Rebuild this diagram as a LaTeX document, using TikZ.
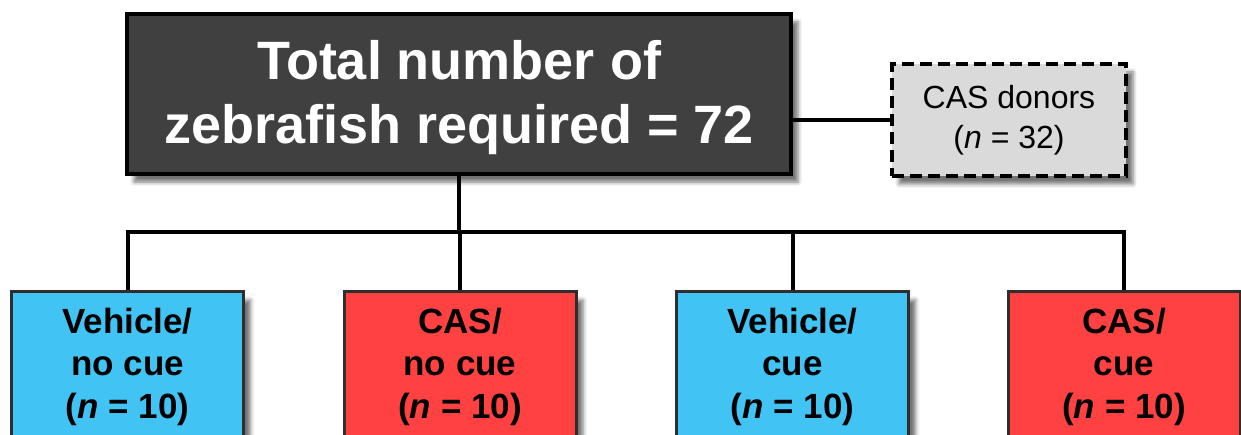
\documentclass[tikz,border=0pt]{standalone}
\usepackage{fontspec}
\setmainfont{Liberation Sans}
\usetikzlibrary{shadows.blur}
\definecolor{totalfill}{HTML}{404040}
\definecolor{donorfill}{HTML}{DADADA}
\definecolor{vehiclefill}{HTML}{41C4F4}
\definecolor{casfill}{HTML}{FF4141}
\definecolor{groupedge}{HTML}{2E2E2E}
\tikzset{
  boxshadow/.style={blur shadow={shadow xshift=7pt, shadow yshift=-8pt,
      shadow blur radius=4pt, shadow opacity=55}},
  totalbox/.style={draw=black, line width=4pt, fill=totalfill, boxshadow,
      minimum width=664pt, minimum height=160pt, inner sep=0pt},
  totaltext/.style={anchor=north, inner sep=0pt, text=white, align=center,
      font=\bfseries\fontsize{54}{64}\selectfont},
  donorbox/.style={draw=black, line width=4pt, dash pattern=on 12pt off 6pt,
      fill=donorfill, boxshadow, minimum width=234pt, minimum height=112pt,
      inner sep=0pt, align=center, font=\fontsize{32}{40}\selectfont},
  groupbox/.style={draw=groupedge, line width=3pt, boxshadow,
      minimum width=232pt, minimum height=168pt, inner sep=0pt},
  grouptext/.style={anchor=north, inner sep=0pt, align=center,
      font=\bfseries\fontsize{35}{42.5}\selectfont},
  conn/.style={draw=black, line width=4pt},
}
\begin{document}
\begin{tikzpicture}[x=1pt, y=-1pt]
\useasboundingbox (0,0) rectangle (1241,435);
\clip (0,0) rectangle (1241,435);

% top: total count and donor pool
\node[totalbox] (total) at (459,94) {};
\node[totaltext] (totaltxt) at ([yshift=-28pt]total.north)
  {Total number of\\zebrafish required = 72};
\node[donorbox] (donors) at (1009,120) {CAS donors\\(\textit{n} = 32)};

% the four treatment groups
\node[groupbox, fill=vehiclefill] (g1) at (127.5,376) {};
\node[groupbox, fill=casfill]     (g2) at (460,376) {};
\node[groupbox, fill=vehiclefill] (g3) at (792.5,376) {};
\node[groupbox, fill=casfill]     (g4) at (1124,376) {};

\node[grouptext] (t1) at ([yshift=-17pt]g1.north) {Vehicle/\\no cue\\(\textit{n} = 10)};
\node[grouptext] (t2) at ([yshift=-17pt]g2.north) {CAS/\\no cue\\(\textit{n} = 10)};
\node[grouptext] (t3) at ([yshift=-17pt]g3.north) {Vehicle/\\cue\\(\textit{n} = 10)};
\node[grouptext] (t4) at ([yshift=-17pt]g4.north) {CAS/\\cue\\(\textit{n} = 10)};

% connectors
\coordinate (bar) at (459,232);
\draw[conn] (donors.west -| total.east) -- (donors.west);
\draw[conn] (total.south) -- (total.south |- bar);
\draw[conn] ([xshift=-2pt]g1.north |- bar) -- ([xshift=2pt]g4.north |- bar);
\foreach \g in {g1,g2,g3,g4}
  \draw[conn] (\g.north |- bar) -- (\g.north);
\end{tikzpicture}
\end{document}
